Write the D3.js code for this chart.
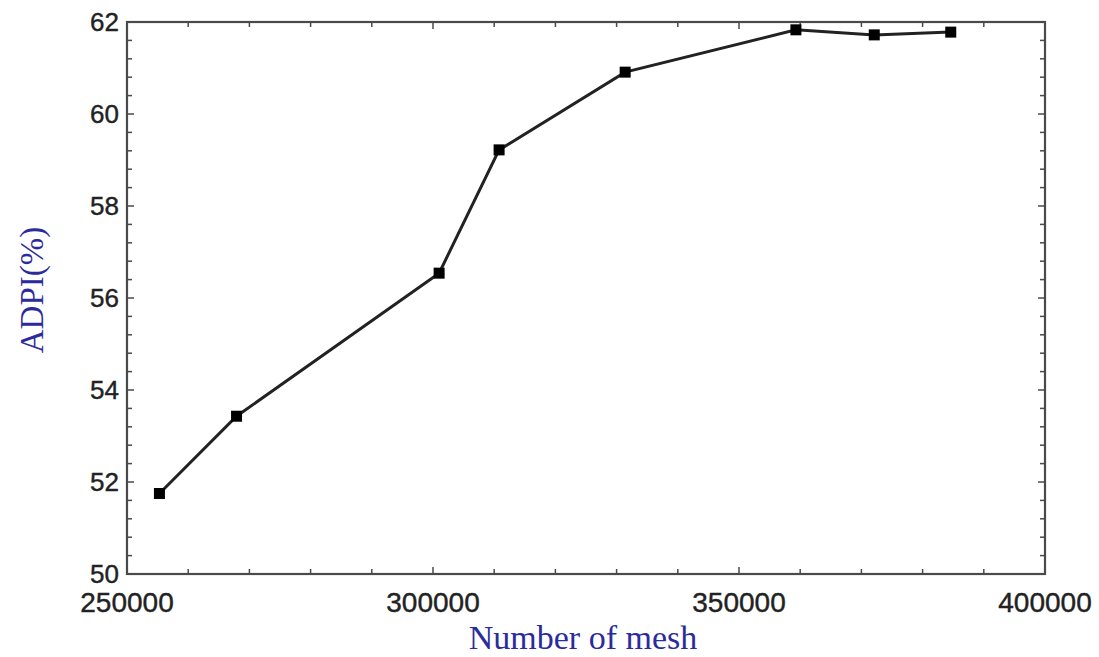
<!DOCTYPE html>
<html>
<head>
<meta charset="utf-8">
<script src="https://cdn.jsdelivr.net/npm/d3@7"></script>
<style>
  html, body { margin: 0; padding: 0; background: #fff; }
  svg { display: block; }
</style>
</head>
<body>
<svg id="chart" width="1099" height="657"></svg>
<script>
// Mesh-independence study: ADPI versus number of mesh cells
const meshCounts = [255300, 267900, 301000, 310800, 331400, 359300, 372100, 384600];
const adpiValues = [51.75, 53.43, 56.54, 59.22, 60.91, 61.83, 61.72, 61.78];
const xTickValues = [250000, 300000, 350000, 400000];
const yTickValues = [50, 52, 54, 56, 58, 60, 62];

const svg = d3.select("#chart");
const plotLeft = 127, plotRight = 1045, plotTop = 22, plotBottom = 574;

const x = d3.scaleLinear().domain([250000, 400000]).range([plotLeft, plotRight]);
const y = d3.scaleLinear().domain([50, 62]).range([plotBottom, plotTop]);

const frameColor = "#4a4a4a";
const textColor = "#222";

// minor and major ticks, mirrored on all four sides, pointing inward
const xMinor = d3.range(250000, 400001, 10000);
const yMinor = d3.range(50, 62.001, 0.4);
const ticks = svg.append("g").attr("stroke", frameColor).attr("stroke-width", 1.5);
xMinor.forEach(v => {
  const major = xTickValues.includes(v);
  const len = major ? 7 : 5;
  ticks.append("line").attr("x1", x(v)).attr("x2", x(v)).attr("y1", plotBottom).attr("y2", plotBottom - len);
  ticks.append("line").attr("x1", x(v)).attr("x2", x(v)).attr("y1", plotTop).attr("y2", plotTop + len);
});
yMinor.forEach(v => {
  const major = yTickValues.some(t => Math.abs(t - v) < 1e-6);
  const len = major ? 7 : 5;
  ticks.append("line").attr("y1", y(v)).attr("y2", y(v)).attr("x1", plotLeft).attr("x2", plotLeft + len);
  ticks.append("line").attr("y1", y(v)).attr("y2", y(v)).attr("x1", plotRight).attr("x2", plotRight - len);
});

// plot frame
svg.append("rect")
  .attr("x", plotLeft).attr("y", plotTop)
  .attr("width", plotRight - plotLeft).attr("height", plotBottom - plotTop)
  .attr("fill", "none").attr("stroke", frameColor).attr("stroke-width", 2.2);

// tick labels
svg.append("g").selectAll("text").data(yTickValues).join("text")
  .attr("x", plotLeft - 8).attr("y", d => y(d))
  .attr("dy", "0.36em")
  .attr("text-anchor", "end")
  .attr("font-family", "Liberation Sans, Arial, sans-serif")
  .attr("font-size", 26)
  .attr("fill", textColor)
  .attr("stroke", textColor).attr("stroke-width", 0.4)
  .text(d => d);

svg.append("g").selectAll("text").data(xTickValues).join("text")
  .attr("x", d => x(d)).attr("y", 612)
  .attr("text-anchor", "middle")
  .attr("font-family", "Liberation Sans, Arial, sans-serif")
  .attr("font-size", 28)
  .attr("fill", textColor)
  .attr("stroke", textColor).attr("stroke-width", 0.4)
  .text(d => d);

// axis titles
svg.append("text")
  .attr("x", 583).attr("y", 649)
  .attr("text-anchor", "middle")
  .attr("font-family", "Liberation Serif, Times New Roman, serif")
  .attr("font-size", 34)
  .attr("fill", "#2b2b9e")
  .text("Number of mesh");

svg.append("text")
  .attr("transform", "translate(43,290) rotate(-90)")
  .attr("text-anchor", "middle")
  .attr("font-family", "Liberation Serif, Times New Roman, serif")
  .attr("font-size", 33)
  .attr("fill", "#2b2b9e")
  .text("ADPI(%)");

// data line and square markers
const pts = meshCounts.map((m, i) => [m, adpiValues[i]]);
svg.append("path")
  .datum(pts)
  .attr("fill", "none")
  .attr("stroke", "#222")
  .attr("stroke-width", 3)
  .attr("d", d3.line().x(d => x(d[0])).y(d => y(d[1])));

const s = 11;
svg.append("g").selectAll("rect").data(pts).join("rect")
  .attr("x", d => x(d[0]) - s / 2)
  .attr("y", d => y(d[1]) - s / 2)
  .attr("width", s).attr("height", s)
  .attr("fill", "#000");
</script>
</body>
</html>
